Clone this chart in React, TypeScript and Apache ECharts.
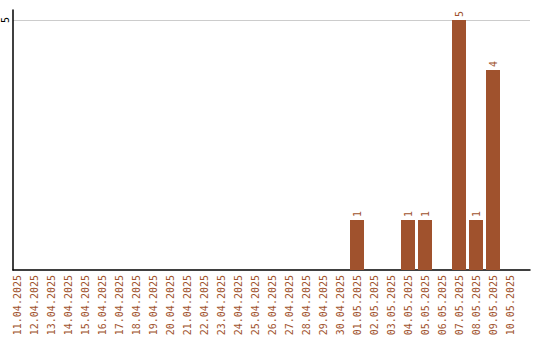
import React, { useEffect, useRef } from "react";
import * as echarts from "echarts";

const dates: string[] = [
  "11.04.2025", "12.04.2025", "13.04.2025", "14.04.2025", "15.04.2025",
  "16.04.2025", "17.04.2025", "18.04.2025", "19.04.2025", "20.04.2025",
  "21.04.2025", "22.04.2025", "23.04.2025", "24.04.2025", "25.04.2025",
  "26.04.2025", "27.04.2025", "28.04.2025", "29.04.2025", "30.04.2025",
  "01.05.2025", "02.05.2025", "03.05.2025", "04.05.2025", "05.05.2025",
  "06.05.2025", "07.05.2025", "08.05.2025", "09.05.2025", "10.05.2025",
];

const counts: number[] = [
  0, 0, 0, 0, 0, 0, 0, 0, 0, 0,
  0, 0, 0, 0, 0, 0, 0, 0, 0, 0,
  1, 0, 0, 1, 1, 0, 5, 1, 4, 0,
];

const yTicks: number[] = [5];

const BROWN = "#a0522d";
const FONT = "DejaVu Sans Mono";

export default function App() {
  const ref = useRef<HTMLDivElement>(null);

  useEffect(() => {
    if (!ref.current) return;
    const chart = echarts.init(ref.current, null, { renderer: "svg" });
    const yMax = 5.2;
    chart.setOption({
      animation: false,
      backgroundColor: "#ffffff",
      grid: [
        // frame: axis lines and the horizontal grid line
        { left: 10, right: 10, top: 10, height: 260 },
        // bars and date labels
        { left: 8.5, width: 510, top: 10, height: 260 },
      ],
      xAxis: [
        {
          type: "value",
          gridIndex: 0,
          min: 0,
          max: 1,
          axisLine: { show: true, lineStyle: { color: "#000", width: 1.5 } },
          axisTick: { show: false },
          axisLabel: { show: false },
          splitLine: { show: false },
        },
        {
          type: "category",
          gridIndex: 1,
          data: dates,
          axisLine: { show: false },
          axisTick: { show: false },
          axisLabel: {
            rotate: 90,
            interval: 0,
            margin: 5,
            color: BROWN,
            fontFamily: FONT,
            fontSize: 10,
          },
        },
      ],
      yAxis: [
        {
          type: "value",
          gridIndex: 0,
          min: 0,
          max: yMax,
          interval: 5,
          axisLine: { show: true, lineStyle: { color: "#000", width: 1.5 } },
          axisTick: { show: false },
          axisLabel: {
            rotate: 90,
            margin: 3,
            color: "#000",
            fontFamily: FONT,
            fontSize: 10,
            formatter: (v: number) => (yTicks.includes(v) ? String(v) : ""),
          },
          splitLine: {
            show: true,
            showMinLine: false,
            showMaxLine: false,
            lineStyle: { color: "#cccccc", width: 1 },
          },
        },
        {
          type: "value",
          gridIndex: 1,
          min: 0,
          max: yMax,
          show: false,
          splitLine: { show: false },
        },
      ],
      series: [
        {
          type: "bar",
          xAxisIndex: 1,
          yAxisIndex: 1,
          data: counts,
          barWidth: 14,
          itemStyle: { color: BROWN },
          label: {
            show: true,
            position: "top",
            rotate: 90,
            align: "left",
            verticalAlign: "middle",
            distance: 3,
            color: BROWN,
            fontFamily: FONT,
            fontSize: 10,
            formatter: (p: any) => (p.value ? String(p.value) : ""),
          },
        },
      ],
    });
    return () => chart.dispose();
  }, []);

  return (
    <div
      ref={ref}
      style={{ position: "fixed", left: 0, top: 0, width: 540, height: 340 }}
    />
  );
}
